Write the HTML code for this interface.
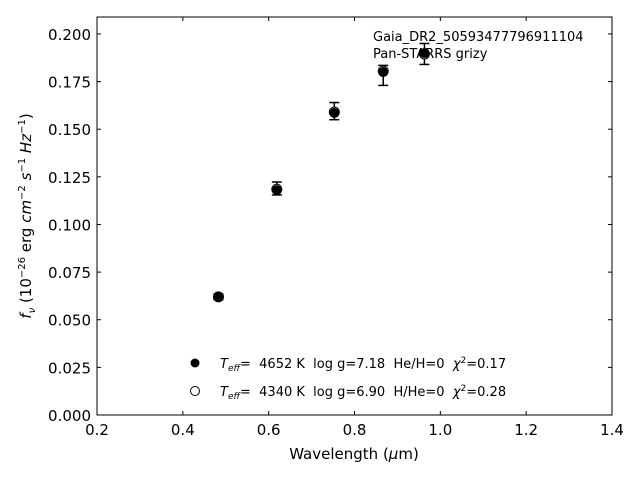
<!DOCTYPE html>
<html><head><meta charset="utf-8"><style>
body{margin:0;background:#fff;}
svg{display:block;font-family:"DejaVu Sans","Liberation Sans",sans-serif;}
text{white-space:pre;}
</style></head><body>
<svg id="chart" width="640" height="480" xmlns="http://www.w3.org/2000/svg">
<rect width="640" height="480" fill="#fff"/>
<g id="marks"></g>
<g id="axes"></g>
<text x="373" y="41" font-size="13">Gaia_DR2_50593477796911104</text>
<text x="373" y="58" font-size="13">Pan-STARRS grizy</text>
<g>
<circle cx="195" cy="363" r="4.5" fill="#000"/>
<text x="220" y="368" font-size="13"><tspan font-style="italic">T</tspan><tspan font-style="italic" font-size="9" dy="3">eff</tspan><tspan dy="-3">=  4652 K  log g=7.18  He/H=0  </tspan><tspan font-style="italic">χ</tspan><tspan font-size="9" dy="-5">2</tspan><tspan dy="5">=0.17</tspan></text>
<circle cx="195" cy="391" r="4.5" fill="#fff" stroke="#000" stroke-width="1"/>
<text x="220" y="396" font-size="13"><tspan font-style="italic">T</tspan><tspan font-style="italic" font-size="9" dy="3">eff</tspan><tspan dy="-3">=  4340 K  log g=6.90  H/He=0  </tspan><tspan font-style="italic">χ</tspan><tspan font-size="9" dy="-5">2</tspan><tspan dy="5">=0.28</tspan></text>
</g>
<text x="354" y="459" font-size="15" text-anchor="middle">Wavelength (<tspan font-style="italic">μ</tspan>m)</text>
<text transform="translate(31,216) rotate(-90)" font-size="15" text-anchor="middle"><tspan font-style="italic">f</tspan><tspan font-style="italic" font-size="10" dy="4">ν</tspan><tspan dy="-4"> (10</tspan><tspan font-size="10" dy="-6">−26</tspan><tspan dy="6"> erg </tspan><tspan font-style="italic">cm</tspan><tspan font-size="10" dy="-6">−2</tspan><tspan dy="6"> </tspan><tspan font-style="italic">s</tspan><tspan font-size="10" dy="-6">−1</tspan><tspan dy="6"> </tspan><tspan font-style="italic">Hz</tspan><tspan font-size="10" dy="-6">−1</tspan><tspan dy="6">)</tspan></text>
</svg>
<script>
const wavelengths=[0.483,0.619,0.753,0.867,0.963];
const fluxObs=[0.062,0.118,0.1585,0.180,0.190];
const errUpper=[0.0635,0.1223,0.164,0.1835,0.195];
const errLower=[0.0605,0.1155,0.155,0.173,0.184];
const model2=[0.062,0.1185,0.159,0.1805,0.1895];
const xTicks=[0.2,0.4,0.6,0.8,1.0,1.2,1.4];
const yTicks=[0,0.025,0.05,0.075,0.1,0.125,0.15,0.175,0.2];
const L=97,R=612,T=17,B=415,xmin=0.2,xmax=1.4,ymin=0,ymax=0.2089;
const X=v=>L+(v-xmin)/(xmax-xmin)*(R-L);
const Y=v=>B-(v-ymin)/(ymax-ymin)*(B-T);
const NS="http://www.w3.org/2000/svg";
function mk(tag,attrs,parent){const e=document.createElementNS(NS,tag);for(const k in attrs)e.setAttribute(k,attrs[k]);parent.appendChild(e);return e;}
const marks=document.getElementById('marks'),axes=document.getElementById('axes');
wavelengths.forEach((w,i)=>{
  const x=X(w);
  const g=mk('g',{},marks);
  
  
  mk('line',{x1:x,x2:x,y1:Y(errUpper[i]),y2:Y(errLower[i]),stroke:'#000','stroke-width':1.5},g);
  mk('line',{x1:x-5,x2:x+5,y1:Y(errUpper[i]),y2:Y(errUpper[i]),stroke:'#000','stroke-width':1.5},g);
  mk('line',{x1:x-5,x2:x+5,y1:Y(errLower[i]),y2:Y(errLower[i]),stroke:'#000','stroke-width':1.5},g);
  mk('circle',{cx:x,cy:Y(model2[i]),r:5,fill:'#fff',stroke:'#000'},g);
  mk('circle',{cx:x,cy:Y(fluxObs[i]),r:5,fill:'#000'},g);
});
const frame=mk('rect',{x:L,y:T,width:R-L,height:B-T,fill:'none',stroke:'#000','stroke-width':1},axes);


xTicks.forEach(v=>{
  const x=X(v);
  mk('line',{x1:x,x2:x,y1:B,y2:B-4,stroke:'#000'},axes);
  mk('line',{x1:x,x2:x,y1:T,y2:T+4,stroke:'#000'},axes);
  const t=mk('text',{x:x,y:B+20,'font-size':15,'text-anchor':'middle'},axes);
  
  
  t.textContent=v.toFixed(1);
});
yTicks.forEach(v=>{
  const y=Y(v);
  mk('line',{x1:L,x2:L+4,y1:y,y2:y,stroke:'#000'},axes);
  mk('line',{x1:R,x2:R-4,y1:y,y2:y,stroke:'#000'},axes);
  const t=mk('text',{x:L-6,y:y+6,'font-size':15,'text-anchor':'end'},axes);
  
  
  t.textContent=v.toFixed(3);
});
</script>
</body></html>
